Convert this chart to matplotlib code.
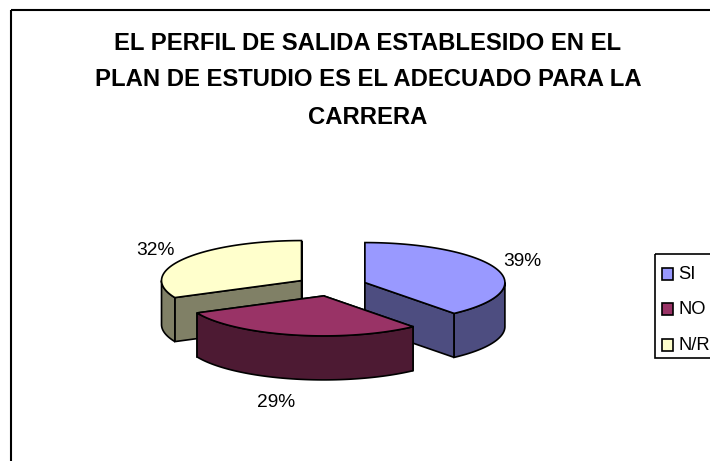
import numpy as np
import matplotlib
matplotlib.use("Agg")
import matplotlib.pyplot as plt
from matplotlib.patches import Polygon, Rectangle

categories = ["SI", "NO", "N/R"]
values = [39, 29, 32]
pct_labels = ["39%", "29%", "32%"]
top_colors = ["#9999FF", "#993366", "#FFFFCC"]
side_colors = ["#4D4D80", "#4D1A33", "#808066"]
title_lines = ["EL PERFIL DE SALIDA ESTABLESIDO EN EL",
               "PLAN DE ESTUDIO ES EL ADECUADO PARA LA",
               "CARRERA"]

W, H = 710, 461
CX, CY, RX, RY, DEPTH, EXPLODE = 331.5, 286, 140, 40, 44, 35.5

plt.rcParams["font.family"] = ["Liberation Sans", "DejaVu Sans"]
fig = plt.figure(figsize=(W / 100, H / 100), dpi=100)
ax = fig.add_axes([0, 0, 1, 1])
ax.set_xlim(0, W)
ax.set_ylim(H, 0)
ax.axis("off")

ax.add_patch(Rectangle((11, 10), W, H, fill=False, ec="black", lw=1.5, clip_on=True))

for line, y in zip(title_lines, [43, 80, 117]):
    ax.text(368, y, line, ha="center", va="center", fontsize=17.2, fontweight="bold", color="black")

frac = np.array(values) / sum(values)
ends = np.cumsum(frac) * 2 * np.pi
starts = ends - frac * 2 * np.pi


def rim(c, a):
    return np.column_stack([c[0] + RX * np.sin(a), c[1] - RY * np.cos(a)])


def slice_parts(i):
    a0, a1 = starts[i], ends[i]
    mid = (a0 + a1) / 2
    c = np.array([CX + EXPLODE * np.sin(mid), CY - EXPLODE * RY / RX * np.cos(mid)])
    arc = rim(c, np.linspace(a0, a1, 160))
    down = np.array([0, DEPTH])
    # cut faces
    for p in (arc[0], arc[-1]):
        ax.add_patch(Polygon([c, p, p + down, c + down], fc=side_colors[i], ec="black", lw=1.2, zorder=2))
    # outer wall, front half only
    lo, hi = max(a0, np.pi / 2), min(a1, 3 * np.pi / 2)
    if hi > lo:
        w = rim(c, np.linspace(lo, hi, 120))
        ax.add_patch(Polygon(np.vstack([w, (w + down)[::-1]]), fc=side_colors[i], ec="black", lw=1.2, zorder=2))
    ax.add_patch(Polygon(np.vstack([c, arc]), fc=top_colors[i], ec="black", lw=1.2, zorder=2))


for i in [2, 0, 1]:
    slice_parts(i)

label_pos = [(522, 261), (276, 402), (155, 250)]
for t, (x, y) in zip(pct_labels, label_pos):
    ax.text(x, y, t, ha="center", va="center", fontsize=13.8, color="black", zorder=5)

ax.add_patch(Rectangle((654.5, 254), 80, 104, fill=False, ec="black", lw=1.2, zorder=4))
for name, col, y in zip(categories, top_colors, [274, 309, 345]):
    ax.add_patch(Rectangle((662, y - 6), 10.5, 11.5, fc=col, ec="black", lw=1.2, zorder=5))
    ax.text(678, y + 0.5, name, ha="left", va="center", fontsize=13.2, color="black", zorder=5)

fig.savefig("out.png", dpi=100)
